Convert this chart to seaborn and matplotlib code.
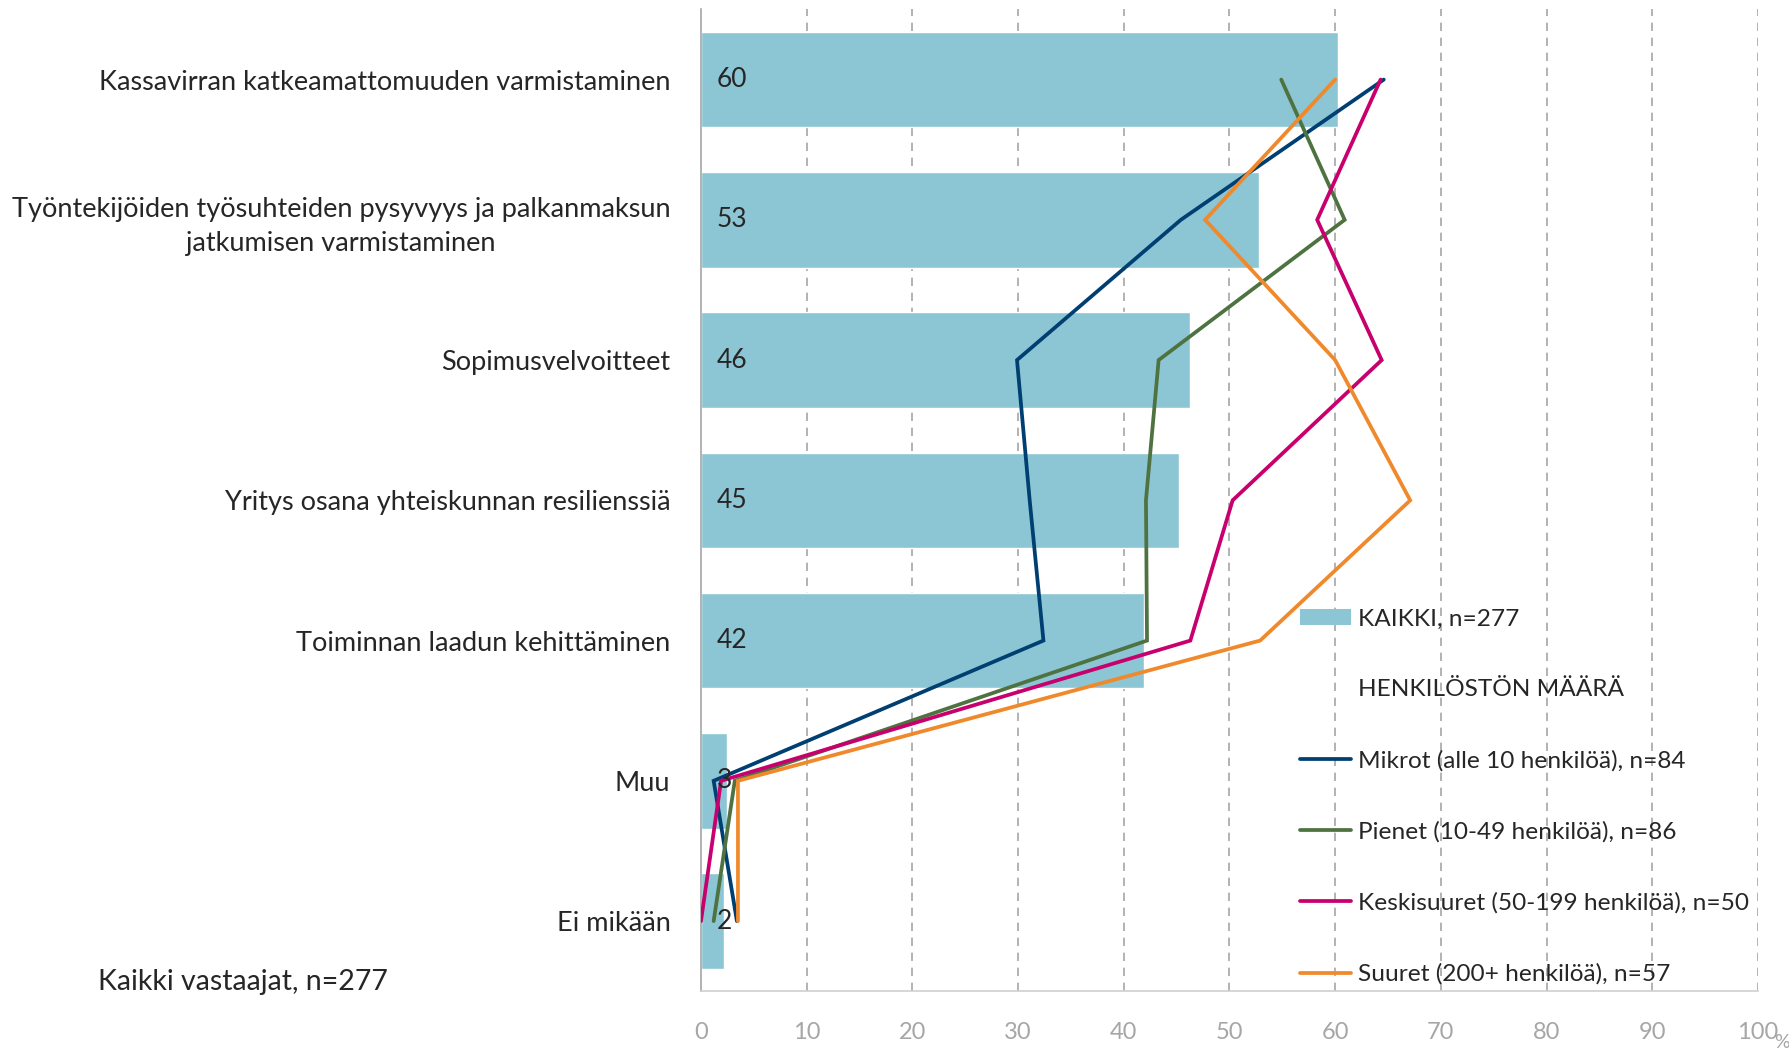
import numpy as np
import pandas as pd
import matplotlib.pyplot as plt
import seaborn as sns
from matplotlib.lines import Line2D
from matplotlib.patches import Patch

# data
categories = [
    "Kassavirran katkeamattomuuden varmistaminen",
    "Työntekijöiden työsuhteiden pysyvyys ja palkanmaksun\njatkumisen varmistaminen",
    "Sopimusvelvoitteet",
    "Yritys osana yhteiskunnan resilienssiä",
    "Toiminnan laadun kehittäminen",
    "Muu",
    "Ei mikään",
]
kaikki = [60.3, 52.8, 46.3, 45.2, 41.9, 2.5, 2.2]
kaikki_labels = ["60", "53", "46", "45", "42", "3", "2"]
mikrot = [64.6, 45.4, 29.9, 31.1, 32.4, 1.2, 3.4]
pienet = [54.9, 60.9, 43.3, 42.1, 42.2, 3.2, 1.2]
keskisuuret = [64.3, 58.3, 64.4, 50.3, 46.3, 1.9, 0.0]
suuret = [60.0, 47.7, 60.0, 67.1, 52.9, 3.5, 3.5]

series_names = [
    "Mikrot (alle 10 henkilöä), n=84",
    "Pienet (10-49 henkilöä), n=86",
    "Keskisuuret (50-199 henkilöä), n=50",
    "Suuret (200+ henkilöä), n=57",
]
series_vals = [mikrot, pienet, keskisuuret, suuret]
series_colors = ["#003F72", "#4E7340", "#C8006E", "#F0892B"]
bar_color = "#8CC5D3"

sns.set_style("white")
plt.rcParams["font.family"] = ["Lato", "DejaVu Sans"]

fig = plt.figure(figsize=(17.9, 10.5), dpi=100)
ax = fig.add_axes([0.3916, 0.056, 0.5905, 0.935])

df = pd.DataFrame({"kategoria": categories, "arvo": kaikki})
sns.barplot(data=df, x="arvo", y="kategoria", color=bar_color, saturation=1,
            width=0.68, ax=ax, zorder=2)

pos = np.arange(len(categories))
for vals, col in zip(series_vals, series_colors):
    ax.plot(vals, pos, color=col, lw=2.7, zorder=3, solid_joinstyle="miter")

# bar value labels
for i, lab in enumerate(kaikki_labels):
    ax.text(1.5, i, lab, ha="left", va="center", fontsize=19, color="#262626", zorder=4)

ax.set_xlim(0, 100)
ax.set_ylim(len(categories) - 0.5, -0.5)
ax.set_xticks(range(0, 101, 10))
ax.set_xlabel("")
ax.set_ylabel("")

# dashed vertical grid behind the bars
for xv in range(10, 101, 10):
    ax.axvline(xv, color="#A6A6A6", lw=1.2, ls=(0, (5, 4)), zorder=1)

for s in ["top", "right"]:
    ax.spines[s].set_visible(False)
ax.spines["left"].set_color("#A6A6A6")
ax.spines["bottom"].set_color("#D0D0D0")
ax.spines["left"].set_linewidth(1.2)
ax.spines["bottom"].set_linewidth(1.2)

ax.tick_params(axis="x", colors="#A6A6A6", length=6, width=1, direction="out",
               labelsize=17, pad=16)
ax.tick_params(axis="y", length=0, labelsize=19.5, labelcolor="#262626", pad=22)
ax.set_yticks(np.arange(0.5, len(categories) - 1, 1), minor=True)
ax.tick_params(axis="y", which="minor", length=6, color="#A6A6A6", width=1)
for t in ax.get_yticklabels():
    t.set_multialignment("center")
    t.set_linespacing(1.45)

fig.text(0.9955, 0.007, "%", fontsize=14, color="#A6A6A6", ha="center", va="center")
fig.text(0.055, 0.065, "Kaikki vastaajat, n=277", fontsize=20.5, color="#262626",
         ha="left", va="center")

handles = [Patch(facecolor=bar_color, edgecolor="none"),
           Line2D([], [], color="none")]
handles += [Line2D([], [], color=c, lw=2.7) for c in series_colors]
labels = ["KAIKKI, n=277", "HENKILÖSTÖN MÄÄRÄ"] + series_names
fig.legend(handles, labels, loc="upper left", bbox_to_anchor=(0.7193, 0.432),
           frameon=False, fontsize=17.6, handlelength=2.1, handleheight=0.6,
           handletextpad=0.28, labelspacing=2.03, borderpad=0, labelcolor="#262626")

fig.savefig("out.png", dpi=100)
